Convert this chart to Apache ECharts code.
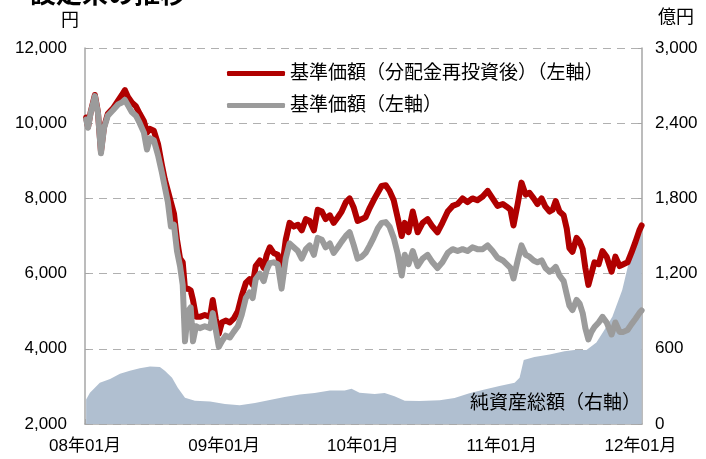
<!DOCTYPE html>
<html><head><meta charset="utf-8">
<script src="https://cdn.jsdelivr.net/npm/echarts@6/dist/echarts.min.js"></script>
<style>html,body{margin:0;padding:0;background:#fff}#c{width:706px;height:459px}</style>
</head><body><div id="c"></div>
<script>
// price series dates & values (円)
const priceDates = ['2008-01-04','2008-01-09','2008-01-16','2008-01-27','2008-02-04','2008-02-12','2008-02-20','2008-03-01','2008-03-15','2008-03-28','2008-04-07','2008-04-15','2008-04-23','2008-05-03','2008-05-14','2008-05-24','2008-06-04','2008-06-12','2008-06-20','2008-06-30','2008-07-11','2008-07-21','2008-07-29','2008-08-06','2008-08-14','2008-08-22','2008-08-30','2008-09-07','2008-09-14','2008-09-20','2008-09-28','2008-10-05','2008-10-11','2008-10-19','2008-10-29','2008-11-11','2008-11-25','2008-12-02','2008-12-10','2008-12-18','2008-12-26',
'2009-01-05','2009-01-16','2009-01-26','2009-02-06','2009-02-16','2009-02-27','2009-03-09','2009-03-17','2009-03-25','2009-04-05','2009-04-15','2009-04-23','2009-05-01','2009-05-11','2009-05-22','2009-06-01','2009-06-12','2009-06-22','2009-07-03','2009-07-14','2009-07-24','2009-08-04','2009-08-14','2009-08-25','2009-09-04','2009-09-15','2009-09-25','2009-10-06','2009-10-16','2009-10-27','2009-11-06','2009-11-17','2009-11-27','2009-12-08','2009-12-18','2009-12-29',
'2010-01-08','2010-01-19','2010-01-29','2010-02-09','2010-02-19','2010-03-02','2010-03-12','2010-03-23','2010-04-02','2010-04-13','2010-04-21','2010-05-01','2010-05-12','2010-05-25','2010-06-07','2010-06-20','2010-07-03','2010-07-16','2010-07-29','2010-08-12','2010-08-25','2010-09-07','2010-09-20','2010-10-03','2010-10-16','2010-10-29','2010-11-12','2010-11-25','2010-12-08','2010-12-21',
'2011-01-04','2011-01-14','2011-01-24','2011-02-01','2011-02-12','2011-02-22','2011-03-05','2011-03-15','2011-03-26','2011-04-05','2011-04-16','2011-04-26','2011-05-07','2011-05-15','2011-05-23','2011-06-02','2011-06-13','2011-06-21','2011-06-28','2011-07-06','2011-07-17','2011-07-25','2011-08-02','2011-08-09','2011-08-17','2011-08-25','2011-09-02','2011-09-13','2011-09-23','2011-10-04','2011-10-12','2011-10-17','2011-10-27','2011-11-07','2011-11-17','2011-11-28','2011-12-08','2011-12-19','2011-12-29','2012-01-04'];
const navReinvested = [10150,9900,10300,10750,10300,9250,9900,10250,10400,10600,10750,10880,10700,10550,10450,10250,10050,9750,9850,9800,9450,8900,8500,8200,7900,7600,6900,6400,6300,5600,5600,5550,5300,4850,4850,4900,4850,5300,4800,4400,4700,
4750,4700,4800,5000,5400,5750,5850,5700,6200,6350,6150,6500,6700,6550,6500,6050,6900,7350,7250,7300,7150,7450,7400,7150,7700,7650,7450,7550,7350,7500,7650,7900,8000,7750,7400,7450,
7500,7750,7950,8150,8330,8350,8200,7950,7500,7000,7350,7100,7650,7100,7350,7450,7250,7100,7350,7650,7800,7850,8000,7900,8000,7950,8050,8200,8000,7800,
7850,7780,7700,7280,7850,8420,8100,8150,8000,7850,8000,7780,7650,7700,7930,7650,7550,7200,6680,6580,6950,6850,6650,6150,5700,6000,6300,6250,6600,6450,6200,6050,6450,6200,6250,6300,6550,6850,7150,7280];
const navPlain = [10100,9880,10280,10720,10280,9200,9870,10200,10350,10500,10550,10620,10480,10300,10200,10000,9750,9300,9600,9550,9150,8700,8300,7900,7250,7300,6600,6200,5700,4200,5000,5100,4200,4600,4550,4600,4550,4950,4500,4050,4200,
4350,4300,4450,4600,4900,5350,5500,5350,5850,6000,5800,6100,6280,6300,6250,5600,6400,6800,6700,6600,6400,6650,6750,6500,6950,6900,6700,6800,6550,6700,6850,7000,7100,6750,6400,6450,
6550,6750,6950,7200,7350,7370,7250,6950,6550,5950,6500,6250,6600,6200,6400,6500,6300,6150,6300,6550,6650,6600,6650,6600,6700,6650,6650,6750,6600,6420,
6350,6250,6150,5870,6350,6750,6500,6450,6350,6300,6350,6150,6050,6100,6180,5950,5800,5450,5150,5030,5300,5200,4950,4550,4250,4450,4580,4700,4850,4700,4500,4380,4700,4450,4450,4500,4650,4800,4950,5020];
// net assets (億円)
const assetDates = ['2008-01-04','2008-01-14','2008-01-27','2008-02-09','2008-03-07','2008-04-02','2008-04-28','2008-05-24','2008-06-20','2008-07-16','2008-07-29','2008-08-17','2008-09-01','2008-09-20','2008-10-16','2008-11-25','2009-01-03','2009-02-11','2009-03-23','2009-05-01','2009-06-09','2009-07-19','2009-08-27','2009-10-06','2009-11-14','2009-12-02','2009-12-23','2010-02-01','2010-02-27','2010-03-25','2010-04-21','2010-05-30','2010-07-22','2010-08-30','2010-10-08','2010-11-17','2010-12-26','2011-02-04','2011-02-17','2011-02-28','2011-03-28','2011-05-07','2011-06-15','2011-07-11','2011-08-12','2011-09-07','2011-09-28','2011-10-19','2011-11-14','2011-12-03','2011-12-21','2012-01-04'];
const netAssets = [195,250,290,330,360,400,425,445,458,455,425,370,290,210,185,180,160,150,168,192,215,235,248,267,268,282,250,240,248,222,185,183,190,208,245,275,303,330,370,510,535,555,580,590,590,650,750,855,1070,1310,1490,1590];
const yearTicks = ['2008-01-01','2009-01-01','2010-01-01','2011-01-01','2012-01-01'];
const seriesNames = ['基準価額（分配金再投資後）（左軸）','基準価額（左軸）','純資産総額（右軸）'];

const FONT = "'Liberation Sans','Noto Sans CJK JP',sans-serif";
const ts = s => { const p = s.split('-'); return Date.UTC(+p[0], +p[1]-1, +p[2]); };
const zip = (d, v) => d.map((x, i) => [ts(x), v[i]]);
const fmt = v => String(v).replace(/\B(?=(\d{3})+(?!\d))/g, ',');
const tickVals = yearTicks.map(ts);

const chart = echarts.init(document.getElementById('c'), null, {renderer: 'canvas'});
chart.setOption({
  animation: false,
  backgroundColor: '#fff',
  textStyle: {fontFamily: FONT},
  grid: {left: 85, right: 64, top: 48, bottom: 35},
  legend: {
    data: [seriesNames[0], seriesNames[1]],
    orient: 'vertical', left: 222, top: 59, itemGap: 13,
    itemWidth: 58, itemHeight: 5, icon: 'roundRect',
    textStyle: {fontSize: 19, color: '#000', fontFamily: FONT}
  },
  xAxis: {
    type: 'value', min: ts('2008-01-01'), max: ts('2012-01-05'),
    axisLine: {lineStyle: {color: '#a6a6a6', width: 1.5}},
    axisTick: {show: true, inside: true, length: 5, customValues: tickVals, lineStyle: {color: '#a6a6a6'}},
    axisLabel: {
      customValues: tickVals, fontSize: 17, color: '#000', margin: 14, fontFamily: FONT,
      formatter: v => { const d = new Date(v); return String(d.getUTCFullYear()).slice(2) + '年' + String(d.getUTCMonth()+1).padStart(2,'0') + '月'; }
    },
    splitLine: {show: false}
  },
  yAxis: [{
    type: 'value', min: 2000, max: 12000, interval: 2000,
    axisLine: {show: true, lineStyle: {color: '#a6a6a6', width: 1.5}},
    axisTick: {show: true, inside: true, length: 4, lineStyle: {color: '#a6a6a6'}},
    axisLabel: {fontSize: 17, color: '#000', margin: 18, formatter: fmt, fontFamily: FONT},
    splitLine: {show: true, lineStyle: {color: '#b0b0b0', type: [8, 6], width: 1}}
  }, {
    type: 'value', min: 0, max: 3000, interval: 600, position: 'right',
    axisLine: {show: true, lineStyle: {color: '#a6a6a6', width: 1.5}},
    axisTick: {show: true, inside: true, length: 4, lineStyle: {color: '#a6a6a6'}},
    axisLabel: {fontSize: 17, color: '#000', margin: 13, formatter: fmt, fontFamily: FONT},
    splitLine: {show: false}
  }],
  series: [{
    name: seriesNames[2], type: 'line', yAxisIndex: 1, data: zip(assetDates, netAssets),
    symbol: 'none', lineStyle: {width: 0}, areaStyle: {color: '#b0bfd0', opacity: 1}, z: 1
  }, {
    name: seriesNames[0], type: 'line', yAxisIndex: 0, data: zip(priceDates, navReinvested),
    symbol: 'none', itemStyle: {color: '#b00000'},
    lineStyle: {color: '#b00000', width: 6, cap: 'round', join: 'round'}, z: 2
  }, {
    name: seriesNames[1], type: 'line', yAxisIndex: 0, data: zip(priceDates, navPlain),
    symbol: 'none', itemStyle: {color: '#9b9b9b'},
    lineStyle: {color: '#9b9b9b', width: 6, cap: 'round', join: 'round'}, z: 3
  }],
  graphic: [
    {type: 'text', z: 100, left: 30, top: -17, style: {text: '設定来の推移', fontSize: 26, fontWeight: 'bold', fill: '#000', fontFamily: FONT}},
    {type: 'text', z: 100, left: 61, top: 12, style: {text: '円', fontSize: 18, fill: '#000', fontFamily: FONT}},
    {type: 'text', z: 100, left: 658, top: 9, style: {text: '億円', fontSize: 18, fill: '#000', fontFamily: FONT}},
    {type: 'text', z: 100, left: 470, top: 394, style: {text: seriesNames[2], fontSize: 19, fill: '#000', fontFamily: FONT}}
  ]
});
</script></body></html>
